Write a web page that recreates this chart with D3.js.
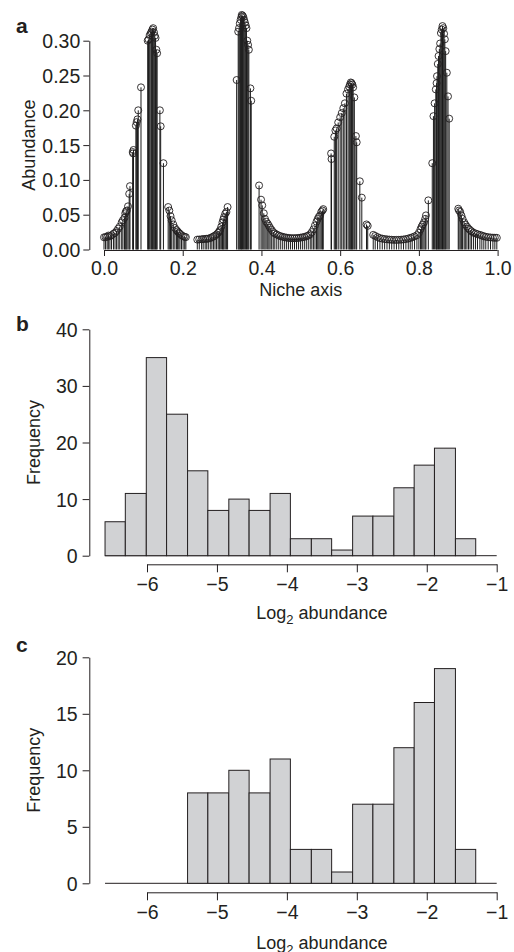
<!DOCTYPE html>
<html>
<head>
<meta charset="utf-8">
<script src="https://cdn.jsdelivr.net/npm/d3@7"></script>
<style>
  html, body { margin: 0; padding: 0; background: #ffffff; }
  svg { display: block; }
  text { font-family: "Liberation Sans", Arial, Helvetica, sans-serif; fill: #231f20; }
</style>
</head>
<body>
<svg id="chart" width="514" height="952"></svg>
<script>
// ---------- Panel a data: niche position and abundance of each species ----------
const nicheX = [
  0.000,0.004,0.008,0.011,0.015,0.019,0.024,0.028,0.032,0.036,
  0.040,0.045,0.048,0.052,0.054,0.056,0.058,0.061,0.064,0.066,
  0.073,0.074,0.075,0.081,0.083,0.085,0.087,0.094,
  0.111,0.113,0.116,0.119,0.121,0.123,0.125,0.127,0.129,0.131,0.133,0.135,
  0.142,0.144,0.151,0.163,0.166,0.169,0.172,0.176,0.180,0.184,
  0.187,0.190,0.193,0.197,0.201,0.205,0.208,
  0.237,0.242,0.248,0.252,0.257,0.261,0.265,0.270,0.274,0.278,0.282,
  0.286,0.290,0.293,0.295,0.298,0.301,0.303,0.305,0.308,0.311,0.314,
  0.337,0.341,0.343,0.345,0.347,0.349,0.350,0.352,0.354,0.356,0.358,
  0.360,0.362,0.364,0.366,0.368,0.372,0.374,
  0.394,0.399,0.402,0.406,0.409,0.412,0.416,0.419,0.422,0.426,
  0.430,0.434,0.439,0.444,0.449,0.454,0.459,0.464,0.469,0.474,
  0.479,0.484,0.489,0.494,0.499,0.504,0.509,0.514,0.519,0.524,
  0.528,0.532,0.536,0.540,0.543,0.546,0.549,0.552,0.555,0.557,
  0.577,0.578,0.585,0.588,0.591,0.595,0.600,0.604,0.608,0.612,
  0.616,0.620,0.623,0.625,0.627,0.629,0.631,0.633,0.636,0.640,
  0.642,0.650,0.655,0.667,0.670,
  0.684,0.689,0.695,0.701,0.707,0.713,0.719,0.725,0.731,0.737,
  0.743,0.749,0.755,0.761,0.767,0.773,0.778,0.783,0.789,0.795,
  0.800,0.804,0.807,0.810,0.813,0.816,0.818,0.824,0.834,
  0.837,0.840,0.843,0.845,0.846,0.848,0.850,0.852,0.854,0.856,
  0.858,0.860,0.862,0.864,0.866,0.868,0.871,0.874,0.877,
  0.900,0.902,0.905,0.908,0.911,0.915,0.918,0.922,0.926,0.930,
  0.934,0.939,0.944,0.949,0.955,0.960,0.965,0.970,0.976,0.982,
  0.988,0.993,0.998
];
const abundance = [
  0.0175,0.0178,0.0182,0.0200,0.0190,0.0205,0.0226,0.0240,0.0265,0.0300,
  0.0330,0.0390,0.0420,0.0456,0.0520,0.0548,0.0560,0.0620,0.0800,0.0910,
  0.1400,0.1380,0.1430,0.1780,0.1830,0.1870,0.2000,0.2330,
  0.3000,0.3020,0.3080,0.3110,0.3130,0.3160,0.3180,0.3120,0.3070,0.3040,0.2870,0.2820,
  0.2000,0.1770,0.1240,0.0610,0.0560,0.0480,0.0420,0.0360,0.0310,0.0280,
  0.0260,0.0240,0.0226,0.0205,0.0190,0.0182,0.0177,
  0.0142,0.0144,0.0146,0.0150,0.0152,0.0154,0.0156,0.0165,0.0175,0.0187,0.0200,
  0.0216,0.0240,0.0260,0.0280,0.0330,0.0390,0.0430,0.0466,0.0514,0.0540,0.0610,
  0.2435,0.3130,0.3180,0.3250,0.3300,0.3340,0.3370,0.3360,0.3340,0.3300,0.3260,
  0.3220,0.3180,0.3000,0.2940,0.2870,0.2315,0.2137,
  0.0920,0.0716,0.0634,0.0520,0.0440,0.0400,0.0370,0.0340,0.0310,0.0280,
  0.0250,0.0230,0.0215,0.0200,0.0190,0.0182,0.0175,0.0170,0.0166,0.0163,
  0.0162,0.0162,0.0164,0.0166,0.0170,0.0175,0.0180,0.0190,0.0200,0.0220,
  0.0250,0.0290,0.0346,0.0400,0.0440,0.0470,0.0490,0.0540,0.0560,0.0580,
  0.1380,0.1300,0.1620,0.1710,0.1740,0.1825,0.1900,0.1960,0.2030,0.2100,
  0.2240,0.2300,0.2340,0.2370,0.2400,0.2390,0.2370,0.2330,0.2185,0.1630,
  0.1540,0.0980,0.0745,0.0360,0.0340,
  0.0210,0.0195,0.0178,0.0163,0.0156,0.0150,0.0146,0.0142,0.0140,0.0138,
  0.0138,0.0139,0.0141,0.0144,0.0150,0.0157,0.0165,0.0175,0.0188,0.0205,
  0.0240,0.0290,0.0330,0.0360,0.0390,0.0440,0.0490,0.0706,0.1240,
  0.1916,0.2100,0.2300,0.2390,0.2490,0.2666,0.2780,0.2880,0.2960,0.3110,
  0.3160,0.3210,0.3180,0.3100,0.3020,0.2850,0.2540,0.2200,0.1880,
  0.0586,0.0560,0.0540,0.0490,0.0440,0.0390,0.0360,0.0330,0.0300,0.0280,
  0.0260,0.0240,0.0230,0.0220,0.0210,0.0200,0.0190,0.0183,0.0177,0.0173,
  0.0170,0.0169,0.0168
];
const nicheTicks = [0.0, 0.2, 0.4, 0.6, 0.8, 1.0];
const abundanceTicks = [0.00, 0.05, 0.10, 0.15, 0.20, 0.25, 0.30];

// ---------- Panels b and c: histograms of log2 abundance ----------
const binEdges = [-6.60,-6.31,-6.01,-5.72,-5.42,-5.13,-4.83,-4.54,-4.24,-3.95,
                  -3.65,-3.36,-3.06,-2.77,-2.47,-2.18,-1.89,-1.59,-1.30];
const freqB = [6,11,35,25,15,8,10,8,11,3,3,1,7,7,12,16,19,3];
const freqC = [0,0,0,0,8,8,10,8,11,3,3,1,7,7,12,16,19,3];
const logTicks = [-6,-5,-4,-3,-2,-1];
const freqTicksB = [0,10,20,30,40];
const freqTicksC = [0,5,10,15,20];

// ---------- drawing ----------
const svg = d3.select("#chart");
const INK = "#231f20";
const FS = 18;      // axis titles
const TFS = 19.5;   // tick labels

function styleAxis(g) {
  g.selectAll("path.domain").attr("stroke", INK).attr("stroke-width", 1);
  g.selectAll(".tick line").attr("stroke", INK).attr("stroke-width", 1);
  g.selectAll(".tick text").attr("font-size", TFS).attr("fill", INK)
    .attr("font-family", '"Liberation Sans", Arial, sans-serif');
}

// ===== Panel a =====
const xA = d3.scaleLinear().domain([0, 1]).range([104, 497.6]);
const yA = d3.scaleLinear().domain([0, 0.30]).range([249.5, 40.7]);

const stems = svg.append("g");
nicheX.forEach((x, i) => {
  stems.append("line")
    .attr("x1", xA(x)).attr("x2", xA(x))
    .attr("y1", yA(0)).attr("y2", yA(abundance[i]))
    .attr("stroke", "#1a1a1a").attr("stroke-width", 1);
});
const pts = svg.append("g");
nicheX.forEach((x, i) => {
  pts.append("circle")
    .attr("cx", xA(x)).attr("cy", yA(abundance[i]))
    .attr("r", 3.5)
    .attr("fill", "none").attr("stroke", INK).attr("stroke-width", 0.9);
});

const gAy = svg.append("g").attr("transform", "translate(89.3,0)")
  .call(d3.axisLeft(yA).tickValues(abundanceTicks).tickFormat(d3.format(".2f"))
        .tickSize(6).tickSizeOuter(0).tickPadding(3));
styleAxis(gAy);
gAy.selectAll(".tick text").attr("dy", "0.36em");

const gAx = svg.append("g").attr("transform", "translate(0,250)")
  .call(d3.axisBottom(xA).tickValues(nicheTicks).tickFormat(d3.format(".1f"))
        .tickSize(6).tickSizeOuter(0).tickPadding(5));
styleAxis(gAx);
gAx.selectAll("path.domain").remove();
gAx.append("line").attr("x1", xA(0)).attr("x2", xA(1)).attr("y1", 0.5).attr("y2", 0.5)
  .attr("stroke", INK).attr("stroke-width", 1);

svg.append("text").attr("x", (xA(0) + xA(1)) / 2).attr("y", 296)
  .attr("text-anchor", "middle").attr("font-size", FS).text("Niche axis");
svg.append("text").attr("transform", "translate(35," + ((yA(0) + yA(0.30)) / 2) + ") rotate(-90)")
  .attr("text-anchor", "middle").attr("font-size", FS).text("Abundance");
svg.append("text").attr("x", 16).attr("y", 33).attr("font-size", 21)
  .attr("font-weight", "bold").text("a");

// ===== Histogram helper =====
function histogram(freq, yTicks, yMax, y0px, yTopPx, xAxisY, label, labelY, titleY) {
  const x = d3.scaleLinear().domain([-6, -1]).range([147, 496.7]);
  const y = d3.scaleLinear().domain([0, yMax]).range([y0px, yTopPx]);
  const g = svg.append("g");
  // baseline along zero
  g.append("line").attr("x1", x(binEdges[0])).attr("x2", x(-1))
    .attr("y1", y(0)).attr("y2", y(0)).attr("stroke", INK).attr("stroke-width", 1);
  freq.forEach((f, i) => {
    if (f > 0) {
      g.append("rect")
        .attr("x", x(binEdges[i])).attr("width", x(binEdges[i + 1]) - x(binEdges[i]))
        .attr("y", y(f)).attr("height", y(0) - y(f))
        .attr("fill", "#d1d2d4").attr("stroke", INK).attr("stroke-width", 1);
    }
  });
  const gy = svg.append("g").attr("transform", "translate(89.3,0)")
    .call(d3.axisLeft(y).tickValues(yTicks).tickFormat(d3.format("d"))
          .tickSize(6.7).tickSizeOuter(0).tickPadding(5));
  styleAxis(gy);
  gy.selectAll(".tick text").attr("dy", "0.36em");
  const gx = svg.append("g").attr("transform", "translate(0," + xAxisY + ")")
    .call(d3.axisBottom(x).tickValues(logTicks).tickFormat(d3.format("d"))
          .tickSize(8).tickSizeOuter(0).tickPadding(5));
  styleAxis(gx);
  // axis titles
  const t = svg.append("text").attr("x", (x(-6) + x(-1)) / 2).attr("y", titleY)
    .attr("text-anchor", "middle").attr("font-size", FS);
  t.append("tspan").text("Log");
  t.append("tspan").attr("font-size", 13).attr("dy", 5).text("2");
  t.append("tspan").attr("dy", -5).text(" abundance");
  svg.append("text").attr("transform", "translate(39.5," + ((y0px + yTopPx) / 2) + ") rotate(-90)")
    .attr("text-anchor", "middle").attr("font-size", FS).text("Frequency");
  svg.append("text").attr("x", 16).attr("y", labelY).attr("font-size", 21)
    .attr("font-weight", "bold").text(label);
}

histogram(freqB, freqTicksB, 40, 555.7, 329.3, 564.3, "b", 331, 619);
histogram(freqC, freqTicksC, 20, 883.3, 657.3, 892.3, "c", 652, 949);
</script>
</body>
</html>
